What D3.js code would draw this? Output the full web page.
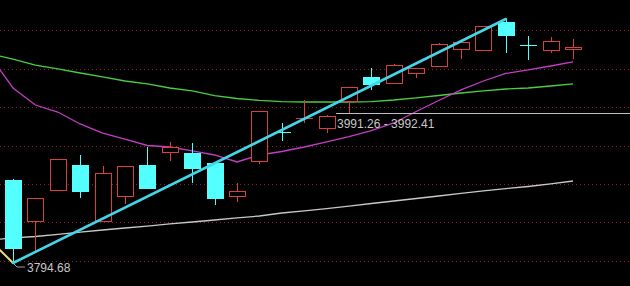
<!DOCTYPE html>
<html>
<head>
<meta charset="utf-8">
<script src="https://cdn.jsdelivr.net/npm/d3@7/dist/d3.min.js"></script>
<style>
html,body{margin:0;padding:0;background:#000;}
svg{display:block;}
</style>
</head>
<body>
<svg id="chart" width="630" height="286"></svg>
<script>
// ---- data ----
const open  = [3903.8,3848.6,3889.4,3923.5,3848.6,3881.5,3923.5,3939.3,3939.3,3926.2,3881.5,3927.5,3967.2,3985.2,3970.9,4006.4,4039.3,4030.1,4043.2,4052.4,4074.8,4073.5,4111.6,4081.5,4073.5,4074.8];
const high  = [3905.1,3880.2,3931.4,3936.7,3922.2,3922.2,3947.2,3953.8,3952.5,3926.2,3899.9,3994.6,3978.8,4009.0,3989.3,4026.1,4051.1,4056.4,4051.1,4084.0,4085.3,4106.3,4115.5,4093.2,4091.9,4089.2];
const low   = [3794.68,3810.5,3889.4,3880.2,3848.6,3872.3,3892.0,3928.8,3899.9,3871.0,3874.9,3924.9,3955.1,3978.8,3965.6,3991.9,4022.2,4030.1,4037.9,4052.4,4062.9,4073.5,4070.8,4061.6,4070.8,4062.9];
const close = [3813.1,3880.2,3931.4,3888.0,3913.0,3922.2,3892.0,3947.2,3918.3,3878.8,3889.4,3994.6,3966.9,3985.4,3988.0,4026.1,4028.7,4055.0,4051.1,4082.7,4085.3,4106.3,4093.2,4081.3,4086.6,4078.7];
// moving averages, starting one bar before the first visible candle (index -1)
const maGreen   = [4069.5,4062.9,4055.0,4049.8,4044.5,4039.3,4034.0,4030.1,4024.8,4020.9,4014.9,4011.0,4008.4,4007.0,4006.4,4006.4,4006.4,4007.0,4009.0,4011.7,4014.9,4018.2,4020.9,4023.5,4024.8,4027.4,4030.1];
const maMagenta = [4065.6,4024.8,4002.4,3993.2,3977.5,3965.6,3957.7,3949.2,3947.2,3942.0,3936.7,3927.5,3936.7,3941.3,3947.2,3953.8,3961.0,3968.9,3978.8,3993.9,4008.4,4022.2,4034.0,4043.9,4048.5,4053.7,4059.0];
const maWhite   = [3824.9,3827.6,3829.5,3832.2,3835.4,3838.1,3840.7,3843.3,3846.0,3848.6,3851.2,3853.9,3856.5,3860.4,3863.1,3866.3,3869.6,3872.9,3876.2,3879.5,3882.8,3886.1,3889.4,3892.6,3895.3,3898.6,3902.5];
const gridValues = [3797.5,3848,3898.5,3949,3999.5,4050,4100.5];
const priceLine = 3991.26;
const priceLineLabel = "3991.26 - 3992.41";
const lowLabel = "3794.68";
const yellowSeg = [{i:-1, v:3824.0},{i:0, v:3794.68}];

// ---- scales ----
const W = 630, H = 286;
const svg = d3.select("#chart");
const x = d3.scaleLinear().domain([0, 25]).range([13, 573]);
const y = d3.scaleLinear().domain([3764.44, 4140.5]).range([286, 0]);

const UP = "#d84040", DOWN = "#54ffff";
const bodyW = 17;

// background
svg.append("rect").attr("width", W).attr("height", H).attr("fill", "#000");

// grid
svg.append("g").selectAll("line").data(gridValues).join("line")
  .attr("x1", 0).attr("x2", W)
  .attr("y1", d => Math.round(y(d)) + 0.5).attr("y2", d => Math.round(y(d)) + 0.5)
  .attr("stroke", "#8a2222").attr("stroke-width", 1).attr("stroke-dasharray", "1,3");

// MA lines
const maLine = d3.line().x((d, k) => x(k - 1)).y(d => y(d));
const clip = svg.append("defs").append("clipPath").attr("id", "plot")
  .append("rect").attr("x", 0).attr("y", 0).attr("width", W).attr("height", H);
const g = svg.append("g").attr("clip-path", "url(#plot)");

g.append("path").datum(maWhite).attr("d", maLine).attr("fill", "none").attr("stroke", "#c8c8c8").attr("stroke-width", 1.3);
g.append("path").datum(maGreen).attr("d", maLine).attr("fill", "none").attr("stroke", "#4ccc44").attr("stroke-width", 1.3);
g.append("path").datum(maMagenta).attr("d", maLine).attr("fill", "none").attr("stroke", "#c23ec2").attr("stroke-width", 1.3);

// candles
const idx = d3.range(open.length);
const cg = svg.append("g").attr("shape-rendering", "crispEdges");
idx.forEach(i => {
  const up = close[i] >= open[i];
  const col = up ? UP : DOWN;
  const cx = Math.round(x(i));
  const yO = y(open[i]), yC = y(close[i]), yH = y(high[i]), yL = y(low[i]);
  const top = Math.round(Math.min(yO, yC)), bot = Math.round(Math.max(yO, yC));
  const left = Math.round(cx - bodyW / 2);
  // wicks
  cg.append("line").attr("x1", cx + 0.5).attr("x2", cx + 0.5)
    .attr("y1", Math.round(yH)).attr("y2", top).attr("stroke", col);
  cg.append("line").attr("x1", cx + 0.5).attr("x2", cx + 0.5)
    .attr("y1", bot).attr("y2", Math.round(yL)).attr("stroke", col);
  if (bot - top < 1.5) {
    cg.append("line").attr("x1", left).attr("x2", left + bodyW)
      .attr("y1", top + 0.5).attr("y2", top + 0.5).attr("stroke", col);
  } else if (up) {
    cg.append("rect").attr("x", left + 0.5).attr("y", top + 0.5)
      .attr("width", bodyW - 1).attr("height", bot - top - 1)
      .attr("fill", "#000").attr("stroke", col);
  } else {
    cg.append("rect").attr("x", left).attr("y", top)
      .attr("width", bodyW).attr("height", bot - top).attr("fill", col);
  }
});

// yellow segment
g.append("line")
  .attr("x1", x(yellowSeg[0].i)).attr("y1", y(yellowSeg[0].v))
  .attr("x2", x(yellowSeg[1].i)).attr("y2", y(yellowSeg[1].v))
  .attr("stroke", "#f0e070").attr("stroke-width", 2);

// trend line from first low to high of bar 22
svg.append("line")
  .attr("x1", x(0)).attr("y1", y(low[0]))
  .attr("x2", x(22)).attr("y2", y(high[22]))
  .attr("stroke", "#44d6e6").attr("stroke-width", 2.6).attr("stroke-linecap", "round");

// horizontal price line with label
const py = Math.round(y(priceLine)) + 0.5;
svg.append("line").attr("x1", Math.round(x(14) + bodyW / 2) + 1).attr("x2", W)
  .attr("y1", py).attr("y2", py).attr("stroke", "#c0c0c0").attr("stroke-width", 1);
svg.append("text").attr("x", Math.round(x(14) + bodyW / 2) + 2).attr("y", py + 14.5)
  .attr("fill", "#c8c8c8").attr("font-family", "'Liberation Sans', Arial, sans-serif")
  .attr("font-size", 12).text(priceLineLabel);

// low label with leader
const lx = x(0), ly = y(low[0]);
svg.append("path").attr("d", `M${lx + 1},${ly + 1} L${lx + 4},${ly + 4} L${lx + 12},${ly + 4}`)
  .attr("fill", "none").attr("stroke", "#a0a0a0").attr("stroke-width", 1);
svg.append("text").attr("x", lx + 14).attr("y", ly + 8.5)
  .attr("fill", "#c8c8c8").attr("font-family", "'Liberation Sans', Arial, sans-serif")
  .attr("font-size", 12).text(lowLabel);
</script>
</body>
</html>
